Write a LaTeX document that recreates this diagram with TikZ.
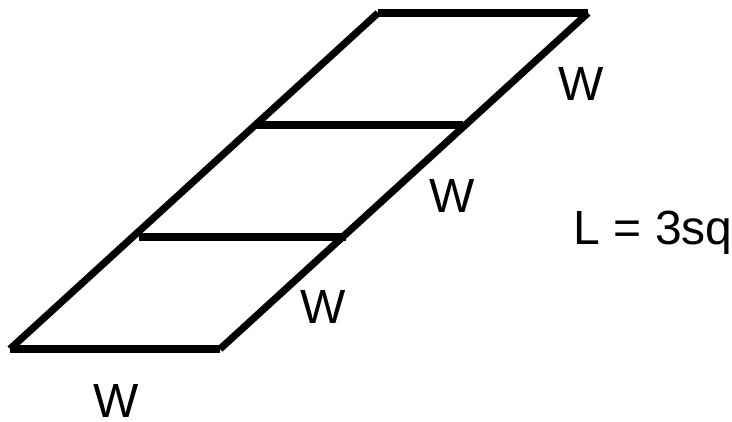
\documentclass[tikz,border=0pt]{standalone}
\usepackage{fontspec}
\setmainfont{Liberation Sans}
\begin{document}
\begin{tikzpicture}[x=1pt,y=-1pt,
  edge/.style={line width=7.2pt,line cap=butt},
  lbl/.style={inner sep=0pt,font=\fontsize{48}{48}\selectfont}]
\useasboundingbox (0,0) rectangle (732,422);
\coordinate (bl) at (10,349);
\coordinate (br) at (220,349);
\coordinate (tl) at (378,13);
\coordinate (tr) at (588,13);
\coordinate (m1l) at (139,237);
\coordinate (m1r) at (346,237);
\coordinate (m2l) at (257,125);
\coordinate (m2r) at (463,125);
\draw[edge] (bl) -- (br);
\draw[edge] (bl) -- (tl);
\draw[edge] (br) -- (tr);
\draw[edge] (tl) -- (tr);
\draw[edge] (m1l) -- (m1r);
\draw[edge] (m2l) -- (m2r);
\node[lbl] (w1) at (116,401) {W};
\node[lbl] (w2) at (323,307) {W};
\node[lbl] (w3) at (452,196) {W};
\node[lbl] (w4) at (581,84) {W};
\node[lbl,anchor=base west] (L) at (573.5,245) {L = 3sq};
\end{tikzpicture}
\end{document}
